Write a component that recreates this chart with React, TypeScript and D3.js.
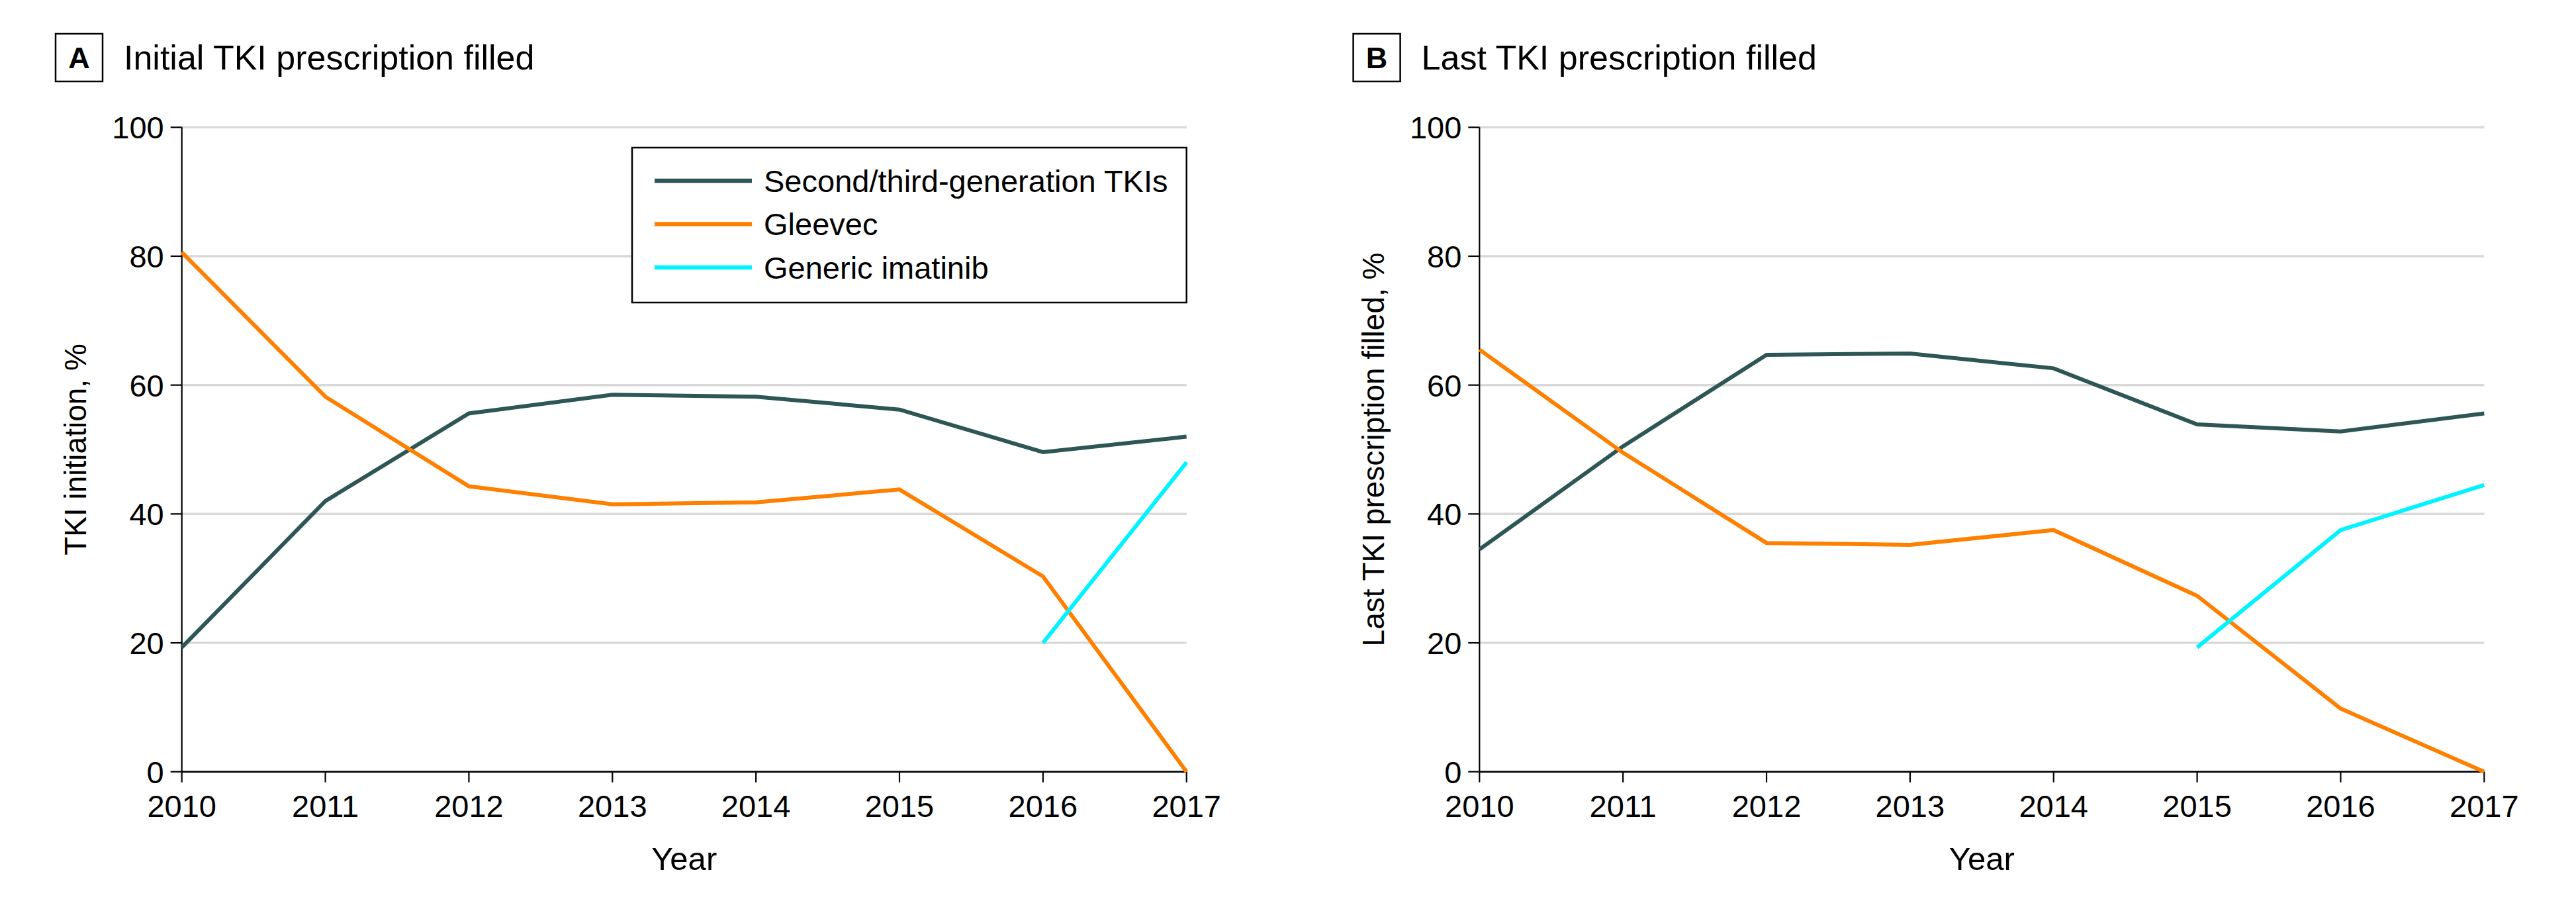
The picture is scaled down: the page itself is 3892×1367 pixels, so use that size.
import React from "react";
import * as d3 from "d3";

// ---------- data ----------
const years = [2010, 2011, 2012, 2013, 2014, 2015, 2016, 2017];
const yTicks = [0, 20, 40, 60, 80, 100];

const secondGenA = [19.3, 42.0, 55.6, 58.5, 58.2, 56.2, 49.6, 52.0];
const gleevecA = [80.6, 58.2, 44.3, 41.5, 41.8, 43.8, 30.3, 0];
const genericYearsA = [2016, 2017];
const genericA = [20.0, 48.0];

const secondGenB = [34.5, 50.5, 64.7, 64.9, 62.6, 53.9, 52.8, 55.6];
const gleevecB = [65.5, 49.5, 35.5, 35.2, 37.5, 27.3, 9.8, 0];
const genericYearsB = [2015, 2016, 2017];
const genericB = [19.3, 37.5, 44.5];

const seriesNames = ["Second/third-generation TKIs", "Gleevec", "Generic imatinib"];
const seriesColors = ["#2d5654", "#ff8000", "#00f4ff"];

const panels = [
  {
    letter: "A",
    title: "Initial TKI prescription filled",
    yLabel: "TKI initiation, %",
    left: 274.7,
    series: [
      { years: years, values: secondGenA },
      { years: years, values: gleevecA },
      { years: genericYearsA, values: genericA },
    ],
    legend: true,
  },
  {
    letter: "B",
    title: "Last TKI prescription filled",
    yLabel: "Last TKI prescription filled, %",
    left: 2235.3,
    series: [
      { years: years, values: secondGenB },
      { years: years, values: gleevecB },
      { years: genericYearsB, values: genericB },
    ],
    legend: false,
  },
];

const W = 3892;
const H = 1367;
const TOP = 192.3;
const BOTTOM = 1165.7;
const PW = 1518;
const FONT = "'Liberation Sans', Arial, sans-serif";

function Panel({ p }: { p: (typeof panels)[number] }) {
  const x = d3.scaleLinear().domain([2010, 2017]).range([p.left, p.left + PW]);
  const y = d3.scaleLinear().domain([0, 100]).range([BOTTOM, TOP]);
  const line = d3
    .line<[number, number]>()
    .x((d) => x(d[0]))
    .y((d) => y(d[1]));
  const boxL = p.left - 190.7;
  return (
    <g>
      {/* panel letter + title */}
      <rect x={boxL} y={51} width={71} height={72} fill="none" stroke="#000" strokeWidth={2.5} />
      <text x={boxL + 35.5} y={103} textAnchor="middle" fontSize={45} fontWeight="bold" fontFamily={FONT}>
        {p.letter}
      </text>
      <text x={boxL + 103} y={105} fontSize={52} fontFamily={FONT}>
        {p.title}
      </text>

      {/* gridlines */}
      {yTicks.map((t) => (
        <line key={"g" + t} x1={p.left} x2={p.left + PW} y1={y(t)} y2={y(t)} stroke="#d9d9d9" strokeWidth={3.5} />
      ))}

      {/* y axis */}
      <line x1={p.left} x2={p.left} y1={TOP} y2={BOTTOM} stroke="#000" strokeWidth={2.2} />
      {yTicks.map((t) => (
        <g key={"yt" + t}>
          <line x1={p.left - 17} x2={p.left} y1={y(t)} y2={y(t)} stroke="#000" strokeWidth={2.2} />
          <text x={p.left - 27} y={y(t)} dy="0.36em" textAnchor="end" fontSize={47} fontFamily={FONT}>
            {t}
          </text>
        </g>
      ))}
      <text
        transform={`translate(${p.left - 161},${(TOP + BOTTOM) / 2}) rotate(-90)`}
        textAnchor="middle"
        fontSize={46}
        fontFamily={FONT}
        dy="0.36em"
      >
        {p.yLabel}
      </text>

      {/* x axis */}
      <line x1={p.left} x2={p.left + PW} y1={BOTTOM} y2={BOTTOM} stroke="#000" strokeWidth={2.5} />
      {years.map((yr) => (
        <g key={"xt" + yr}>
          <line x1={x(yr)} x2={x(yr)} y1={BOTTOM} y2={BOTTOM + 16} stroke="#000" strokeWidth={2.2} />
          <text x={x(yr)} y={1234} textAnchor="middle" fontSize={47} fontFamily={FONT}>
            {yr}
          </text>
        </g>
      ))}
      <text x={p.left + PW / 2} y={1314} textAnchor="middle" fontSize={49} fontFamily={FONT}>
        Year
      </text>

      {/* series */}
      {p.series.map((s, i) => (
        <path
          key={"s" + i}
          d={line(s.years.map((yr, j) => [yr, s.values[j]] as [number, number])) || ""}
          fill="none"
          stroke={seriesColors[i]}
          strokeWidth={6}
        />
      ))}

      {/* legend */}
      {p.legend && (
        <g>
          <rect x={955} y={223} width={p.left + PW - 955} height={234} fill="#fff" stroke="#000" strokeWidth={2.5} />
          {seriesNames.map((n, i) => (
            <g key={"l" + i}>
              <line x1={989} x2={1136} y1={273 + i * 65.5} y2={273 + i * 65.5} stroke={seriesColors[i]} strokeWidth={6.5} />
              <text x={1154} y={273 + i * 65.5} dy="0.36em" fontSize={47} fontFamily={FONT}>
                {n}
              </text>
            </g>
          ))}
        </g>
      )}
    </g>
  );
}

export default function App() {
  return (
    <svg
      width={W}
      height={H}
      viewBox={`0 0 ${W} ${H}`}
      style={{ position: "absolute", left: 0, top: 0, background: "#fff" }}
    >
      <rect x={0} y={0} width={W} height={H} fill="#fff" />
      {panels.map((p) => (
        <Panel key={p.letter} p={p} />
      ))}
    </svg>
  );
}
